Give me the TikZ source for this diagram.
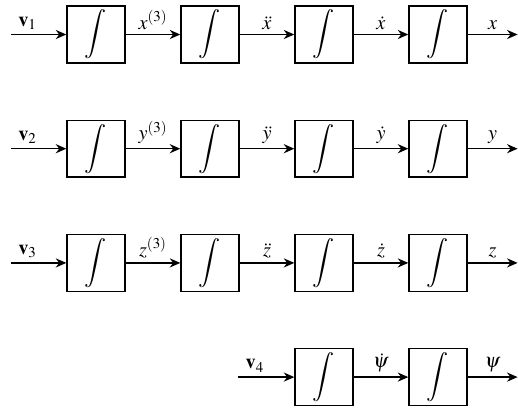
\documentclass[tikz,border=0pt]{standalone}
\usepackage{amsmath}
\usepackage{mathptmx}
\usepackage{tikz}
\usetikzlibrary{arrows.meta}

\begin{document}
\begin{tikzpicture}[
  x=0.02cm,y=-0.02cm,>={Stealth[length=6pt,width=5.2pt]},
  intbox/.style={draw, line width=0.8pt, minimum width=1.16cm, minimum height=1.14cm, inner sep=0pt,
    font=\fontsize{14}{16}\selectfont},
  sig/.style={->, line width=0.8pt},
  lbl/.style={above=0pt, inner sep=2.5pt, font=\fontsize{11.5}{13}\selectfont},
]
\useasboundingbox (0,0) rectangle (518,407);

% chains for x, y, z
\foreach \r/\s in {1/x,2/y,3/z}{
  \foreach \c in {1,...,4}
    \node[intbox] (b\r\c) at ({96+114*(\c-1)},{34.5+114.2*(\r-1)}) {$\displaystyle\int$};
  \coordinate (in\r) at (11,{34.5+114.2*(\r-1)});
  \coordinate (out\r) at (517.6,{34.5+114.2*(\r-1)});
  \draw[sig] (in\r) -- node[lbl,pos=0.3]{$\mathbf{v}_\r$} (b\r1);
  \draw[sig] (b\r1) -- node[lbl]{$\s^{(3)}$} (b\r2);
  \draw[sig] (b\r2) -- node[lbl]{$\ddot{\s}$} (b\r3);
  \draw[sig] (b\r3) -- node[lbl]{$\dot{\s}$} (b\r4);
  \draw[sig] (b\r4) -- node[lbl]{$\s$} (out\r);
}

% yaw chain
\node[intbox] (b43) at (324,377.1) {$\displaystyle\int$};
\node[intbox] (b44) at (438,377.1) {$\displaystyle\int$};
\coordinate (in4) at (238,377.1);
\coordinate (out4) at (517.6,377.1);
\draw[sig] (in4) -- node[lbl,pos=0.3]{$\mathbf{v}_4$} (b43);
\draw[sig] (b43) -- node[lbl]{$\dot{\psi}$} (b44);
\draw[sig] (b44) -- node[lbl]{$\psi$} (out4);

\end{tikzpicture}
\end{document}
